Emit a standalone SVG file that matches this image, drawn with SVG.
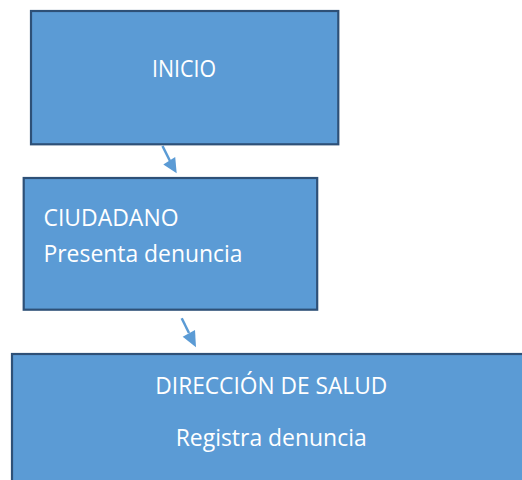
<svg xmlns="http://www.w3.org/2000/svg" width="522" height="480" viewBox="0 0 522 480">
  <style>
    .box { fill: #5B9BD5; stroke: #2E5077; stroke-width: 2.2; }
    .lbl { fill: #FFFFFF; font-family: "Open Sans", "Noto Sans", "Liberation Sans", sans-serif; font-size: 23px; }
    .conn { stroke: #5B9BD5; stroke-width: 2.5; fill: none; }
    .head { fill: #5B9BD5; stroke: none; }
  </style>
  <rect width="522" height="480" fill="#FFFFFF"/>
  <g id="connectors">
    <line class="conn" x1="162.5" y1="146" x2="170" y2="161"/>
    <polygon class="head" points="163.3,164.5 175.2,157 176.7,173.3"/>
    <line class="conn" x1="181.7" y1="318.3" x2="189" y2="333"/>
    <polygon class="head" points="182.7,336.7 195,330 196,347.3"/>
  </g>
  <g id="inicio">
    <rect class="box" x="31" y="11" width="307.3" height="133.3"/>
    <text class="lbl" x="184" y="76.7" text-anchor="middle" textLength="64" lengthAdjust="spacingAndGlyphs">INICIO</text>
  </g>
  <g id="ciudadano">
    <rect class="box" x="23.7" y="178" width="293.5" height="131.7"/>
    <text class="lbl" x="43.5" y="226" textLength="135" lengthAdjust="spacingAndGlyphs">CIUDADANO</text>
    <text class="lbl" x="43.5" y="261.7" textLength="199" lengthAdjust="spacingAndGlyphs">Presenta denuncia</text>
  </g>
  <g id="direccion-salud">
    <rect class="box" x="12" y="354" width="518" height="150"/>
    <text class="lbl" x="271.3" y="394.3" text-anchor="middle" textLength="232" lengthAdjust="spacingAndGlyphs">DIRECCIÓN DE SALUD</text>
    <text class="lbl" x="271.2" y="445.7" text-anchor="middle" textLength="191" lengthAdjust="spacingAndGlyphs">Registra denuncia</text>
  </g>
</svg>
